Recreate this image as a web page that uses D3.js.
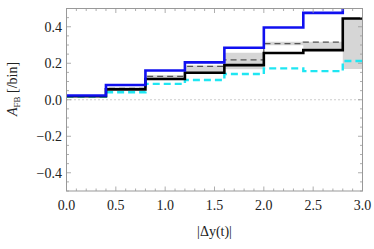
<!DOCTYPE html>
<html><head><meta charset="utf-8">
<script src="https://cdn.jsdelivr.net/npm/d3@7"></script>
<style>body{margin:0;background:#fff}svg{display:block}text{font-family:"Liberation Serif","DejaVu Serif",serif;fill:#222}</style>
</head><body><svg id="c" width="374" height="249"></svg>
<script>
const binEdges = [0, 0.4, 0.8, 1.2, 1.6, 2.0, 2.4, 2.8, 3.0];
const blueVals  = [0.023, 0.081, 0.160, 0.205, 0.285, 0.396, 0.476, 0.56];
const blackVals = [0.019, 0.057, 0.114, 0.148, 0.190, 0.256, 0.272, 0.445];
const cyanVals  = [0.017, 0.041, 0.087, 0.108, 0.141, 0.172, 0.157, 0.212];
const grayDashVals = [0.022, 0.063, 0.128, 0.183, 0.219, 0.307, 0.316, null];
const bandLow  = [0.017, 0.055, 0.114, 0.148, 0.167, 0.298, 0.280, 0.168];
const bandHigh = [0.025, 0.068, 0.134, 0.188, 0.257, 0.318, 0.318, 0.445];
const xTicks = [0, 0.5, 1.0, 1.5, 2.0, 2.5, 3.0];
const yTicks = [-0.4, -0.2, 0.0, 0.2, 0.4];

const svg = d3.select("#c");
const L = 66.5, R = 362.5, T = 8.5, B = 191;
const x = d3.scaleLinear().domain([0, 3]).range([L, R]);
const y = d3.scaleLinear().domain([-0.5, 0.5]).range([B, T]);

svg.append("clipPath").attr("id","clip").append("rect")
  .attr("x", L).attr("y", T).attr("width", R-L).attr("height", B-T);
const g = svg.append("g").attr("clip-path","url(#clip)");

function stepPts(vals){
  const pts = [];
  vals.forEach((v,i)=>{ if(v==null) return; pts.push([binEdges[i], v],[binEdges[i+1], v]); });
  return pts;
}
function stepPieces(vals){
  const runs=[]; let cur=[];
  vals.forEach((v,i)=>{ if(v==null){ if(cur.length) runs.push(cur); cur=[]; return;} cur.push([binEdges[i],v],[binEdges[i+1],v]); });
  if(cur.length) runs.push(cur);
  return runs;
}
const line = d3.line().x(d=>x(d[0])).y(d=>y(d[1]));

const bandPts = [];
bandLow.forEach((v,i)=>{ bandPts.push([binEdges[i], v, bandHigh[i]],[binEdges[i+1], v, bandHigh[i]]); });
g.append("path").datum(bandPts)
  .attr("d", d3.area().x(d=>x(d[0])).y0(d=>y(d[1])).y1(d=>y(d[2])))
  .attr("fill","#d6d6d6").attr("stroke","none");

g.append("line").attr("x1",L).attr("x2",R).attr("y1",y(0)).attr("y2",y(0))
  .attr("stroke","#999").attr("stroke-width",1).attr("stroke-dasharray","1,3");

stepPieces(grayDashVals).forEach(p=>{
  g.append("path").datum(p).attr("d",line).attr("fill","none")
   .attr("stroke","#555").attr("stroke-width",1.2).attr("stroke-dasharray","6,4");
});
g.append("path").datum(stepPts(cyanVals)).attr("d",line).attr("fill","none")
  .attr("stroke","#1fe6f2").attr("stroke-width",2.4).attr("stroke-dasharray","7,4");
g.append("path").datum(stepPts(blackVals)).attr("d",line).attr("fill","none")
  .attr("stroke","#000").attr("stroke-width",2.6).attr("stroke-linejoin","miter");
g.append("path").datum(stepPts(blueVals)).attr("d",line).attr("fill","none")
  .attr("stroke","#1010f0").attr("stroke-width",2.6).attr("stroke-linejoin","miter");

svg.append("rect").attr("x",L).attr("y",T).attr("width",R-L).attr("height",B-T)
  .attr("fill","none").attr("stroke","#999").attr("stroke-width",1);

const ax = svg.append("g").attr("stroke","#999").attr("stroke-width",0.8);
d3.range(0, 3.0001, 0.1).forEach(v=>{
  const major = xTicks.some(t=>Math.abs(t-v)<1e-6);
  const len = major ? 4.5 : 2.5;
  ax.append("line").attr("x1",x(v)).attr("x2",x(v)).attr("y1",B).attr("y2",B-len);
  ax.append("line").attr("x1",x(v)).attr("x2",x(v)).attr("y1",T).attr("y2",T+len);
});
d3.range(-0.5, 0.5001, 0.05).forEach(v=>{
  const major = yTicks.some(t=>Math.abs(t-v)<1e-6);
  const len = major ? 4.5 : 2.5;
  ax.append("line").attr("x1",L).attr("x2",L+len).attr("y1",y(v)).attr("y2",y(v));
  ax.append("line").attr("x1",R).attr("x2",R-len).attr("y1",y(v)).attr("y2",y(v));
});

xTicks.forEach(v=>{
  svg.append("text").attr("x",x(v)).attr("y",210).attr("text-anchor","middle")
    .attr("font-size",14).text(d3.format(".1f")(v));
});
yTicks.forEach(v=>{
  svg.append("text").attr("x",62).attr("y",y(v)+5).attr("text-anchor","end")
    .attr("font-size",14).text(d3.format(".1f")(v).replace("-","\u2212"));
});
svg.append("text").attr("x",x(1.5)).attr("y",236).attr("text-anchor","middle")
  .attr("font-size",14).text("|\u0394y(t)|");
const yt = svg.append("text").attr("transform","translate(17,89) rotate(-90)")
  .attr("text-anchor","middle").attr("font-size",14);
yt.append("tspan").attr("font-style","italic").text("A");
yt.append("tspan").attr("font-size",9).attr("dy",3).text("FB");
yt.append("tspan").attr("dy",-3).text(" [/bin]");
</script></body></html>
